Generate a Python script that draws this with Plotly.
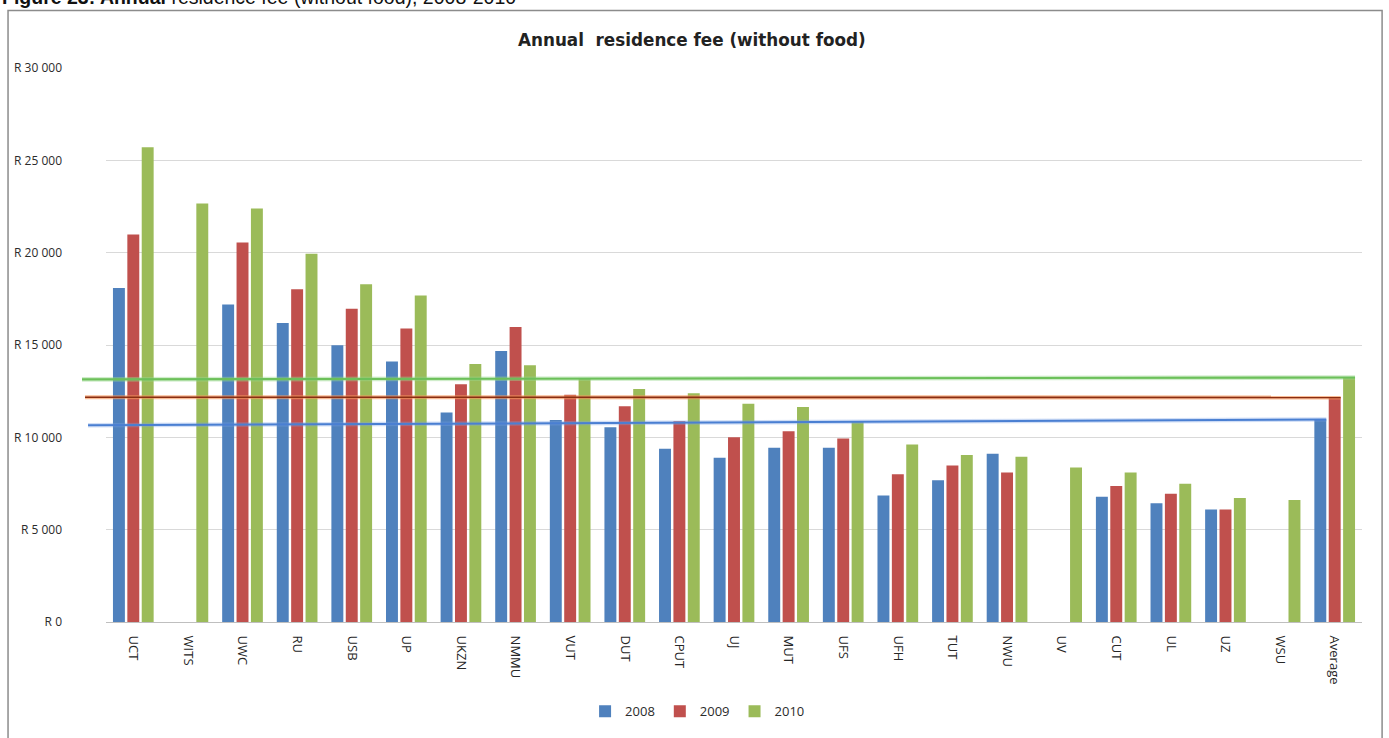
import plotly.graph_objects as go

# Institutions along the category axis
categories = ["UCT", "WITS", "UWC", "RU", "USB", "UP", "UKZN", "NMMU", "VUT", "DUT",
              "CPUT", "UJ", "MUT", "UFS", "UFH", "TUT", "NWU", "UV", "CUT", "UL",
              "UZ", "WSU", "Average"]

# Annual residence fee (Rand), None where no figure was reported
fee_2008 = [18080, None, 17190, 16190, 14990, 14100, 11350, 14670, 10940, 10550,
            9380, 8900, 9440, 9440, 6850, 7680, 9110, None, 6780, 6430,
            6090, None, 10960]
fee_2009 = [20980, None, 20550, 18020, 16960, 15890, 12880, 15980, 12300, 11680,
            10870, 10010, 10330, 9940, 8000, 8470, 8090, None, 7360, 6950,
            6090, None, 12160]
fee_2010 = [25710, 22660, 22390, 19940, 18290, 17680, 13970, 13910, 13160, 12620,
            12390, 11820, 11640, 10830, 9610, 9040, 8950, 8360, 8090, 7480,
            6710, 6600, 13240]

years = ["2008", "2009", "2010"]

# Level of each average line where it starts, at the left edge of the chart
avg_line_start = [10650, 12170, 13140]

# Value axis ticks
tick_vals = [0, 5000, 10000, 15000, 20000, 25000, 30000]
tick_text = ["R 0", "R 5 000", "R 10 000", "R 15 000", "R 20 000", "R 25 000", "R 30 000"]

bar_colors = ["#4F81BD", "#C0504D", "#9BBB59"]
BARGAP = 0.21
BARGROUPGAP = 0.17

fig = go.Figure()
for name, vals, col in zip(years, [fee_2008, fee_2009, fee_2010], bar_colors):
    fig.add_trace(go.Bar(x=categories, y=vals, name=name, marker_color=col,
                         marker_line_width=0))

# Average lines: from the left edge of the chart to the right edge of that
# year's "Average" bar
n_cat = len(categories)
n_series = 3
slot = (1 - BARGAP) / n_series
avg_idx = n_cat - 1
line_styles = [
    # (colour, width, halo colour, start in paper x)
    ("#4A7FD2", 2.0, "rgba(120,160,230,0.35)", -0.0143),
    ("#8A2D12", 1.6, "rgba(245,150,90,0.65)", -0.0167),
    ("#6CC05A", 2.2, "rgba(150,215,140,0.45)", -0.0191),
]
shapes = []
for k, (series, y_left, (col, w, halo, x_start)) in enumerate(
        zip([fee_2008, fee_2009, fee_2010], avg_line_start, line_styles)):
    y_right = series[avg_idx]
    right_cat = avg_idx - (1 - BARGAP) / 2 + slot * (k + 0.5) + slot * (1 - BARGROUPGAP) / 2
    right_paper = (right_cat + 0.5) / n_cat
    for c, lw in ((halo, w + 2.5), (col, w)):
        shapes.append(dict(type="line", xref="paper", yref="y", x0=x_start, x1=right_paper,
                           y0=y_left, y1=y_right, line=dict(color=c, width=lw),
                           layer="above"))

# Chart frame
shapes.append(dict(type="rect", xref="paper", yref="paper", x0=-0.078, x1=1.016,
                   y0=-0.3, y1=1.104, line=dict(color="#8C8C8C", width=1.5),
                   layer="below"))

fig.update_layout(
    width=1389, height=738,
    margin=dict(l=106, r=27, t=68, b=112),
    paper_bgcolor="white", plot_bgcolor="white",
    barmode="group", bargap=BARGAP, bargroupgap=BARGROUPGAP,
    font=dict(family="Open Sans", size=12, color="#333333"),
    shapes=shapes,
    showlegend=True,
    legend=dict(orientation="h", x=0.471, xanchor="center", y=-0.161, yanchor="middle",
                font=dict(family="Open Sans", size=13, color="#2b2b2b"),
                itemwidth=30, tracegroupgap=0),
    annotations=[
        dict(text="Annual  residence fee (without food)", xref="paper", yref="paper",
             x=0.4666, y=1.05, xanchor="center", yanchor="middle", showarrow=False,
             font=dict(family="DejaVu Sans", size=16.8, color="#222222", weight="bold")),
        dict(text="<b>Figure 23: Annual</b> residence fee (without food), 2008-2010",
             xref="paper", yref="paper", x=-0.0844, y=1 + (68 - 10) / 558,
             xanchor="left", yanchor="bottom", showarrow=False,
             font=dict(family="Liberation Sans", size=19.5, color="#111111")),
    ],
)

fig.update_xaxes(type="category", tickangle=90, showgrid=False, showline=True,
                 linecolor="#BFBFBF", linewidth=1, ticks="", ticklabelstandoff=10,
                 tickfont=dict(family="Open Sans", size=13, color="#262626"),
                 range=[-0.5, n_cat - 0.5])
fig.update_yaxes(range=[0, 30000], tickvals=tick_vals, ticktext=tick_text,
                 showgrid=True, gridcolor="#D9D9D9", gridwidth=1, zeroline=False,
                 showline=False, ticks="", ticklabelstandoff=43,
                 tickfont=dict(family="Open Sans", size=12, color="#2b2b2b"))

fig.write_html("out.html")
